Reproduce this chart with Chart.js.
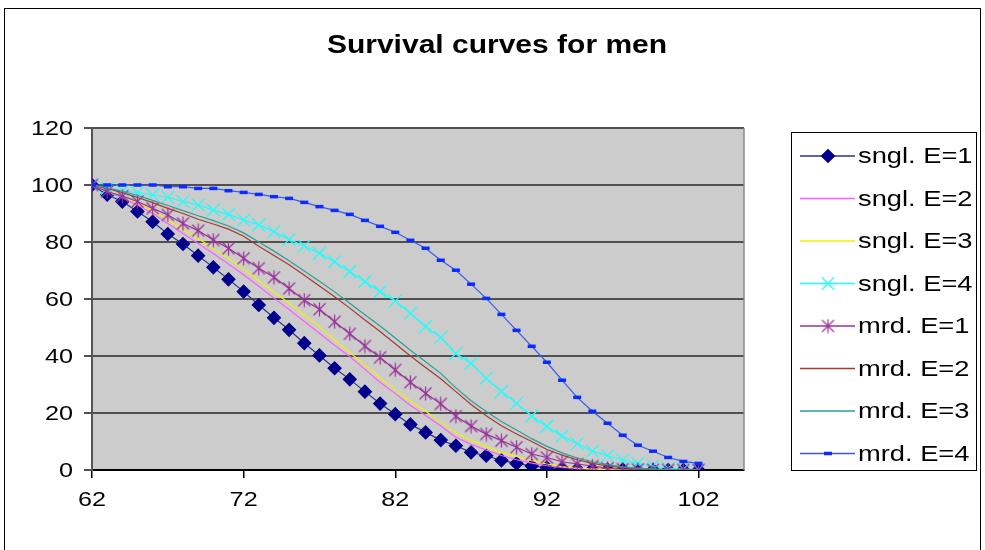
<!DOCTYPE html>
<html>
<head>
<meta charset="utf-8">
<script src="https://cdn.jsdelivr.net/npm/chart.js@4.4.1/dist/chart.umd.min.js"></script>
<style>
  html, body { margin: 0; padding: 0; background: #fff; }
  #wrap { width: 985px; height: 550px; }
</style>
</head>
<body>
<div id="wrap"><canvas id="chart" width="985" height="550"></canvas></div>
<script>
// ages on the x axis, one point per year
const ages = [62, 63, 64, 65, 66, 67, 68, 69, 70, 71, 72, 73, 74, 75, 76, 77, 78, 79, 80, 81, 82,
              83, 84, 85, 86, 87, 88, 89, 90, 91, 92, 93, 94, 95, 96, 97, 98, 99, 100, 101, 102];

const snglE1 = [100, 96.6, 94.2, 90.7, 87.1, 82.8, 79.3, 75.2, 71.1, 66.9, 62.6,
                57.9, 53.4, 49.2, 44.5, 40.2, 35.7, 31.8, 27.5, 23.3, 19.6,
                16.0, 13.2, 10.5, 8.5, 6.2, 5.0, 3.4, 2.3, 1.4, 0.8,
                0.5, 0.3, 0.2, 0.1, 0.1, 0, 0, 0, 0, 0];
const snglE2 = [100, 97.8, 95.5, 93, 90, 86.5, 83, 79.5, 76, 72.3, 68.5,
                64.5, 60.3, 56.3, 52.1, 48, 43.8, 39.8, 35.3, 30.8, 26.8,
                22.6, 19.1, 15.4, 11.5, 9, 7, 5.1, 3.6, 2.4, 1.5,
                0.9, 0.5, 0.3, 0.2, 0.1, 0, 0, 0, 0, 0];
const snglE3 = [100, 98, 96, 93.7, 91, 87.8, 84.5, 81.2, 77.8, 74.2, 70.4,
                66.5, 62.4, 58.6, 54.4, 50.3, 45.6, 41.3, 36.7, 32.3, 28.2,
                24.2, 20.6, 16.8, 13, 10.4, 8.2, 6.1, 4.8, 3.3, 2.1,
                1.2, 0.7, 0.4, 0.2, 0.1, 0, 0, 0, 0, 0];
const snglE4 = [100, 98.8, 97.9, 97.3, 96.5, 95.7, 94.2, 93, 91.2, 89.7, 87.7,
                86, 83.6, 80.9, 78.6, 76, 73.1, 69.6, 66.1, 62.6, 59.3,
                55, 50.3, 46.5, 40.9, 37.4, 32.2, 27.5, 23.4, 18.9, 15.3,
                11.9, 9.2, 6.6, 5, 3.5, 2.3, 1.4, 0.6, 0.3, 0.1];
const mrdE1 = [100, 97.7, 96.1, 94.2, 91.8, 89.5, 86.5, 84, 80.7, 77.8, 74.3,
               70.8, 67.6, 63.7, 59.6, 56.4, 52, 47.8, 43.5, 39.5, 35.1,
               30.8, 26.9, 23.2, 18.9, 15.4, 12.6, 10.3, 8, 5.6, 4.4,
               2.9, 2.1, 1.4, 0.6, 0.3, 0.2, 0.1, 0, 0, 0];
const mrdE2 = [100, 98.8, 97.3, 95.6, 93.8, 91.8, 90, 88, 86.3, 84.5, 82,
               78.5, 75.3, 72, 68.3, 64.6, 60.8, 56.8, 52.6, 48.6, 44.3,
               40, 36, 32, 27.5, 23, 19, 15.5, 12.6, 10, 7.2,
               5.2, 3.6, 2.3, 1.4, 0.8, 0.4, 0.2, 0.1, 0, 0];
const mrdE3 = [100, 99, 97.8, 96.3, 94.6, 92.8, 91, 89.2, 87.5, 85.6, 83.2,
               80, 76.8, 73.4, 69.8, 66.2, 62.5, 58.5, 54.5, 50.5, 46.3,
               42, 38, 33.9, 28.8, 24.3, 20.5, 17, 14, 11, 8.3,
               6, 4.2, 2.9, 1.9, 1.1, 0.6, 0.3, 0.1, 0, 0];
const mrdE4 = [100, 100, 100, 100, 100, 99.4, 99.4, 98.8, 98.8, 98, 97.4,
               96.7, 95.9, 95.3, 93.9, 92.4, 91.1, 89.7, 87.6, 85.5, 83.4,
               80.6, 77.8, 73.6, 70.1, 65.2, 60.2, 54.6, 49, 43.4, 37.8,
               31.5, 25.5, 20.6, 16.4, 12.2, 8.7, 6.6, 4.4, 3, 2.3];

const seriesNames = ["sngl. E=1", "sngl. E=2", "sngl. E=3", "sngl. E=4",
                     "mrd. E=1", "mrd. E=2", "mrd. E=3", "mrd. E=4"];
const xTickValues = [62, 72, 82, 92, 102];
const yTickValues = [0, 20, 40, 60, 80, 100, 120];

const FONT = '"Liberation Sans", Arial, sans-serif';
const TEXT_SX = 1.2;   // the source picture is a bit wider than tall

// excel style asterisk marker: X plus a vertical bar
function makeAsterisk(color) {
    const size = 15;
    const c = document.createElement("canvas");
    c.width = size;
    c.height = size;
    const g = c.getContext("2d");
    g.strokeStyle = color;
    g.lineWidth = 1.2;
    g.beginPath();
    g.moveTo(7.5, 0.5); g.lineTo(7.5, 14.5);
    g.moveTo(1.5, 1.5); g.lineTo(13.5, 13.5);
    g.moveTo(13.5, 1.5); g.lineTo(1.5, 13.5);
    g.stroke();
    return c;
}

function pts(values) {
    return ages.map((a, i) => ({ x: a, y: values[i] }));
}

const styles = [
    { line: "#26358f", marker: "rectRot", color: "#00008c", radius: 6.5 },
    { line: "#ff5cff" },
    { line: "#f2f000" },
    { line: "#19ffff", marker: "crossRot", color: "#19ffff", radius: 9 },
    { line: "#993399", marker: makeAsterisk("#993399"), color: "#993399", radius: 7 },
    { line: "#a8392e" },
    { line: "#2a9f98" },
    { line: "#3a58f0", marker: "line", color: "#0a2cff", radius: 4, bw: 3.5 },
];
const seriesData = [snglE1, snglE2, snglE3, snglE4, mrdE1, mrdE2, mrdE3, mrdE4];

const datasets = seriesData.map((vals, i) => {
    const s = styles[i];
    return {
        label: seriesNames[i],
        data: pts(vals),
        borderColor: s.line,
        borderWidth: 1.2,
        backgroundColor: s.color || s.line,
        pointStyle: s.marker || false,
        pointRadius: s.marker ? s.radius : 0,
        pointBorderColor: s.color || s.line,
        pointBackgroundColor: s.color || s.line,
        pointBorderWidth: s.bw || 1.2,
        tension: 0,
        order: seriesData.length - i,   // later series on top, as in excel
    };
});

function stretchedText(ctx, text, x, y, align, sx) {
    ctx.save();
    ctx.translate(x, y);
    ctx.scale(sx || TEXT_SX, 1);
    ctx.textAlign = align;
    ctx.fillText(text, 0, 0);
    ctx.restore();
}

const decorPlugin = {
    id: "decor",
    beforeDraw(chart) {
        const { ctx, chartArea: a } = chart;
        ctx.save();
        ctx.fillStyle = "#fff";
        ctx.fillRect(0, 0, chart.width, chart.height);
        ctx.fillStyle = "#cccccc";
        ctx.fillRect(a.left, a.top, a.right - a.left, a.bottom - a.top);
        ctx.restore();
    },
    afterDraw(chart) {
        const { ctx, chartArea: a, scales } = chart;
        ctx.save();
        // right edge of plot area
        ctx.strokeStyle = "#8a8a8a";
        ctx.lineWidth = 1.5;
        ctx.beginPath();
        ctx.moveTo(a.right, a.top);
        ctx.lineTo(a.right, a.bottom);
        ctx.stroke();

        // outer frame
        ctx.strokeStyle = "#000";
        ctx.lineWidth = 1;
        ctx.strokeRect(4.5, 8.5, 976, 560);

        // title
        ctx.fillStyle = "#000";
        ctx.textBaseline = "middle";
        ctx.font = "bold 25px " + FONT;
        stretchedText(ctx, "Survival curves for men", 497, 46, "center");

        // tick labels
        ctx.font = "21px " + FONT;
        yTickValues.forEach(v => {
            stretchedText(ctx, String(v), 73, scales.y.getPixelForValue(v) + 1, "right");
        });
        xTickValues.forEach(v => {
            stretchedText(ctx, String(v), scales.x.getPixelForValue(v), 500, "center");
        });

        // legend box
        ctx.strokeStyle = "#000";
        ctx.lineWidth = 1;
        ctx.strokeRect(791.5, 132.5, 185, 338);
        chart.data.datasets.forEach((ds, i) => {
            const y = 156 + i * 42.5;
            ctx.strokeStyle = ds.borderColor;
            ctx.lineWidth = 1.5;
            ctx.beginPath();
            ctx.moveTo(800, y);
            ctx.lineTo(855, y);
            ctx.stroke();
            if (ds.pointStyle) {
                ctx.fillStyle = ds.pointBackgroundColor;
                ctx.strokeStyle = ds.pointBorderColor;
                ctx.lineWidth = ds.pointBorderWidth;
                Chart.helpers.drawPoint(ctx, {
                    pointStyle: ds.pointStyle,
                    radius: ds.pointRadius,
                    borderWidth: ds.pointBorderWidth,
                    rotation: 0,
                }, 828, y);
            }
            ctx.fillStyle = "#000";
            ctx.font = "22px " + FONT;
            stretchedText(ctx, ds.label, 858, y + 1, "left", 1.24);
        });
        ctx.restore();
    },
};

new Chart(document.getElementById("chart"), {
    type: "line",
    data: { datasets },
    plugins: [decorPlugin],
    options: {
        responsive: false,
        animation: false,
        devicePixelRatio: 1,
        layout: { padding: { left: 0, top: 128, right: 241, bottom: 0 } },
        plugins: {
            legend: { display: false },
            title: { display: false },
            tooltip: { enabled: false },
        },
        scales: {
            x: {
                type: "linear",
                min: 62,
                max: 105,
                afterBuildTicks: axis => { axis.ticks = xTickValues.map(v => ({ value: v })); },
                afterFit: axis => { axis.height = 80; },
                ticks: { display: false },
                grid: { drawOnChartArea: false, drawTicks: true, tickLength: 8, color: "#000", lineWidth: 1.5 },
                border: { color: "#000", width: 2 },
            },
            y: {
                min: 0,
                max: 120,
                afterBuildTicks: axis => { axis.ticks = yTickValues.map(v => ({ value: v })); },
                afterFit: axis => { axis.width = 92; },
                ticks: { display: false },
                grid: { color: "#505050", lineWidth: 2, drawTicks: true, tickLength: 8 },
                border: { color: "#555", width: 2 },
            },
        },
    },
});
</script>
</body>
</html>
